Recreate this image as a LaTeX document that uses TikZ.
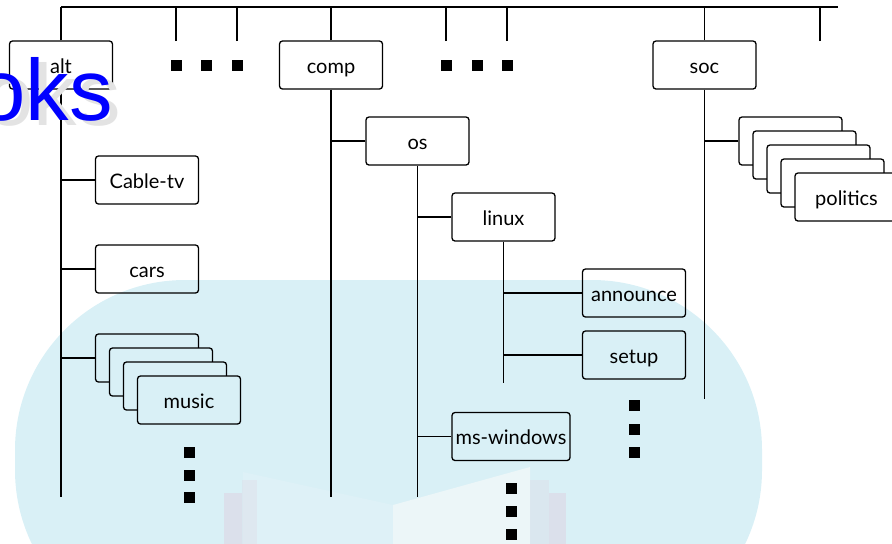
\documentclass[tikz,border=0pt]{standalone}
\usepackage{fontspec}
\setmainfont{Lato}
\newfontfamily\wmfont{Liberation Sans}
\usetikzlibrary{positioning}
\definecolor{wmcyan}{RGB}{217,240,246}
\definecolor{wmpage}{RGB}{236,246,248}
\definecolor{wmpink}{RGB}{222,206,222}
\definecolor{wmblue}{RGB}{0,0,255}

\begin{document}
\begin{tikzpicture}[
      x=0.5pt, y=-0.5pt,
      font=\fontsize{10}{12}\selectfont,
      group/.style={draw, rounded corners=1.5pt, line width=0.65pt, minimum width=51.5pt, minimum height=24pt, inner sep=1pt, text height=9pt, text depth=1pt},
      dotsq/.style={fill=black, minimum size=5.5pt, inner sep=0pt},
      trunk/.style={line width=0.65pt},
  ]

  \clip (0,0) rectangle (892,543);

  % --- Watermark in the back ---
  \fill[wmcyan, rounded corners=85pt] (15,280) rectangle (762,640);
  \fill[wmpage!25!wmcyan] (243,472) -- (393,505) -- (393,560) -- (243,560) -- cycle;
  \fill[wmpage] (393,505) -- (530,467) -- (530,560) -- (393,560) -- cycle;
  \fill[wmpink, opacity=0.45] (224,493) rectangle (242,560);
  \fill[wmpink, opacity=0.25] (242,480) rectangle (257,560);
  \fill[wmpink, opacity=0.25] (530,480) rectangle (549,560);
  \fill[wmpink, opacity=0.45] (549,493) rectangle (566,560);

  % --- Top level groups ---
  \node[group] (alt) at (61, 65) {alt};
  \node[group] (comp) at (331, 65) {comp};
  \node[group] (soc) at (704.5, 65) {soc};

  % --- alt.* ---
  \node[group] (cabletv) at (147, 180) {Cable-tv};
  \node[group] (cars) at (147, 269) {cars};
  \foreach \i in {1,2,3}
    \node[group, fill=wmcyan] (alt-m\i) at ({147+14*(\i-1)}, {358+14*(\i-1)}) {};
  \node[group, fill=wmcyan] (music) at (189, 400) {music};

  % --- comp.* ---
  \node[group] (os) at (417.5, 141) {os};
  \node[group] (linux) at (503.5, 217) {linux};
  \node[group] (announce) at (634, 293) {announce};
  \node[group] (setup) at (634, 355) {setup};
  \node[group, minimum width=59pt] (mswin) at (511, 436.5) {ms-windows};

  % --- soc.* ---
  \foreach \i in {1,2,3,4}
    \node[group, fill=white] (soc-p\i) at ({790.5+14*(\i-1)}, {141+14*(\i-1)}) {};
  \node[group, fill=white] (politics) at (846.5, 197) {politics};

  % --- Top bar and stubs ---
  \coordinate (topl) at (61, 7);
  \coordinate (topr) at (838, 7);
  \coordinate (s1) at (176, 41);
  \coordinate (s2) at (237, 41);
  \coordinate (s3) at (446, 41);
  \coordinate (s4) at (507, 41);
  \coordinate (s5) at (820, 41);
  \draw[trunk] (topl) -- (topr);
  \foreach \n in {alt, comp, soc}
    \draw[trunk] (\n.north) -- (\n.north |- topl);
  \foreach \s in {s1, s2, s3, s4, s5}
    \draw[trunk] (\s) -- (\s |- topl);

  % --- Trunks ---
  \coordinate (altend) at (61, 497);
  \coordinate (compend) at (331, 497);
  \coordinate (osend) at (417.5, 497);
  \coordinate (linuxend) at (503.5, 383);
  \coordinate (socend) at (704.5, 399);
  \draw[trunk] (alt.south) -- (altend);
  \draw[trunk] (comp.south) -- (compend);
  \draw[trunk] (os.south) -- (osend);
  \draw[trunk] (linux.south) -- (linuxend);
  \draw[trunk] (soc.south) -- (socend);

  % --- Branches ---
  \draw[trunk] (cabletv.west) -- (cabletv.west -| altend);
  \draw[trunk] (cars.west) -- (cars.west -| altend);
  \draw[trunk] (alt-m1.west) -- (alt-m1.west -| altend);
  \draw[trunk] (os.west) -- (os.west -| compend);
  \draw[trunk] (linux.west) -- (linux.west -| osend);
  \draw[trunk] (mswin.west) -- (mswin.west -| osend);
  \draw[trunk] (announce.west) -- (announce.west -| linuxend);
  \draw[trunk] (setup.west) -- (setup.west -| linuxend);
  \draw[trunk] (soc-p1.west) -- (soc-p1.west -| socend);

  % --- Ellipsis squares ---
  \foreach \x [count=\i] in {176.5, 206.5, 237.5}
    \node[dotsq] (dota\i) at (\x, 65) {};
  \foreach \x [count=\i] in {446.5, 477.5, 507.5}
    \node[dotsq] (dotb\i) at (\x, 65) {};
  \foreach \y [count=\i] in {452, 475, 497.5}
    \node[dotsq] (dotc\i) at (189.5, \y) {};
  \foreach \y [count=\i] in {405, 429, 452}
    \node[dotsq] (dotd\i) at (634.5, \y) {};
  \foreach \y [count=\i] in {488, 511, 534}
    \node[dotsq] (dote\i) at (511.5, \y) {};

  % --- Watermark letters ---
  \node[anchor=base west, inner sep=0pt, text=gray!22, font=\wmfont\fontsize{43.5}{50}\selectfont] (wmshadow) at (-15, 125) {oks};
  \node[anchor=base west, inner sep=0pt, text=wmblue, font=\wmfont\fontsize{43.5}{50}\selectfont] (wmtext) at (-23, 120) {oks};

\end{tikzpicture}
\end{document}
